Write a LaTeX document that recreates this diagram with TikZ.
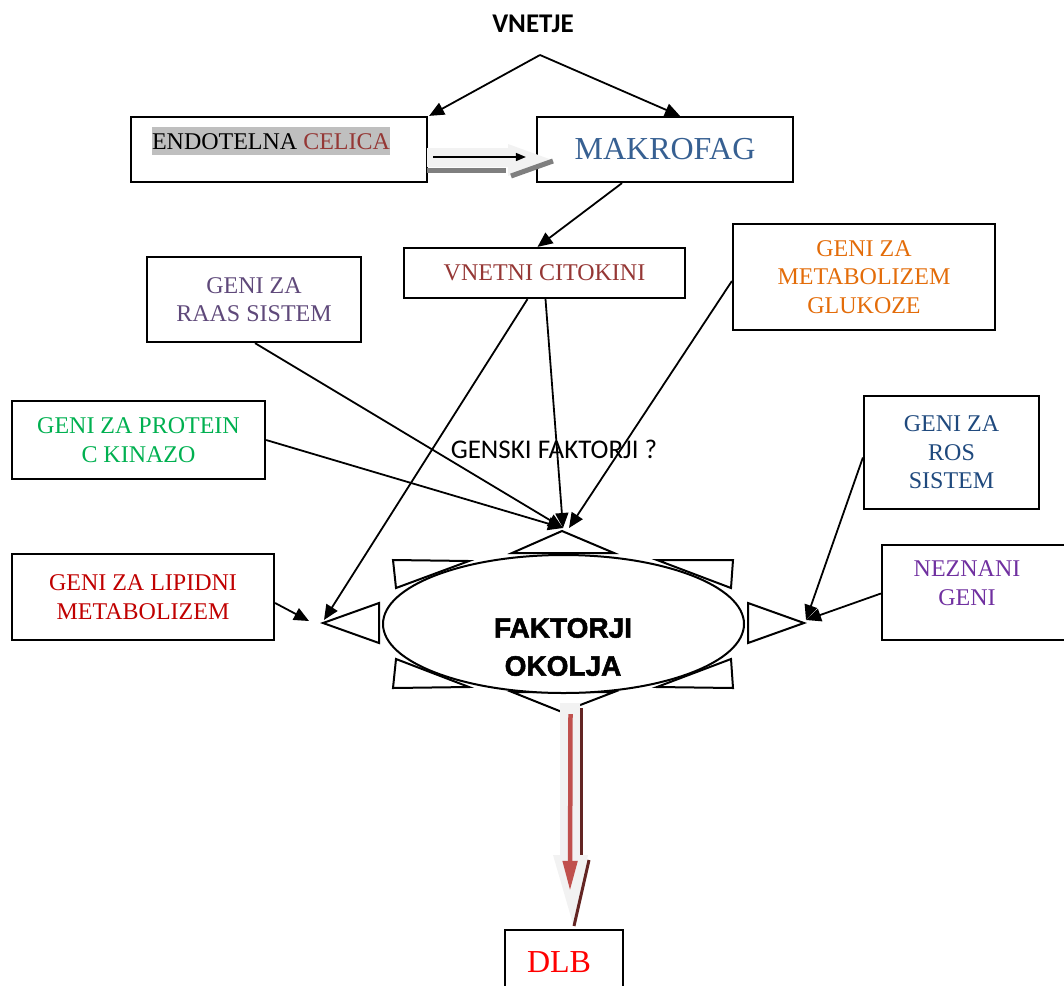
\documentclass[tikz,border=0pt]{standalone}
\usepackage{fontspec}
\setmainfont{Liberation Serif}
\setsansfont{Liberation Sans}
\newfontfamily\calibrifont{Carlito}
\newfontfamily\heavyfont{Liberation Sans Bold}[FakeBold=2]
\usetikzlibrary{arrows.meta,shapes.geometric}

\definecolor{celicared}{HTML}{953735}
\definecolor{makroblue}{HTML}{376092}
\definecolor{raascol}{HTML}{5F497A}
\definecolor{glukcol}{HTML}{E36C09}
\definecolor{pkccol}{HTML}{00B050}
\definecolor{roscol}{HTML}{1F497D}
\definecolor{lipidcol}{HTML}{C00000}
\definecolor{neznanicol}{HTML}{7030A0}
\definecolor{dlbcol}{HTML}{FF0000}
\definecolor{hlgray}{HTML}{BFBFBF}
\definecolor{arrowlight}{HTML}{F2F2F2}
\definecolor{arrowshade}{HTML}{7F7F7F}
\definecolor{dlbred}{HTML}{C0504D}
\definecolor{dlbdark}{HTML}{632523}

\begin{document}
\begin{tikzpicture}[x=1pt, y=-1pt, line join=miter,
  box/.style={draw, line width=2.2pt, align=center, inner sep=0pt, font=\fontsize{24}{28.5}\selectfont},
  link/.style={line width=1.8pt, -{Triangle[length=15pt,width=13pt]}},
  ray/.style={draw, line width=2pt, fill=white}]
    \useasboundingbox (0,0) rectangle (1064,985);

    \node[font=\calibrifont\bfseries\fontsize{27}{30}\selectfont] at (533, 24) (vnetje) {VNETJE};
    \coordinate (split) at (540, 55);

    \node[box, minimum width=296, minimum height=65] at (279, 149.5) (endo) {};
    \node[font=\fontsize{24}{28.5}\selectfont, fill=hlgray, inner xsep=0pt, inner ysep=0.5pt, text height=22pt, text depth=5pt] at (271, 141) (endotext) {ENDOTELNA \textcolor{celicared}{CELICA}};
    \node[box, minimum width=256, minimum height=65, text=makroblue, font=\fontsize{32}{36}\selectfont] at (665, 149.5) (makro) {MAKROFAG};
    \node[box, minimum width=281, minimum height=50, text=celicared] at (544.5, 273) (vnetni) {VNETNI CITOKINI};
    \node[box, minimum width=214, minimum height=85, text=raascol] at (254, 299.5) (raas) {GENI ZA\\RAAS SISTEM};
    \node[box, minimum width=262, minimum height=106, text=glukcol] at (864, 277) (gluk) {GENI ZA\\METABOLIZEM\\GLUKOZE};
    \node[box, minimum width=253, minimum height=78, text=pkccol] at (138.5, 440) (pkc) {GENI ZA PROTEIN\\C KINAZO};
    \node[box, minimum width=175, minimum height=113, text=roscol] at (951.5, 452.5) (ros) {GENI ZA\\ROS\\SISTEM};
    \node[box, minimum width=262, minimum height=86, text=lipidcol] at (143, 597) (lipid) {GENI ZA LIPIDNI\\METABOLIZEM};
    \node[box, minimum width=184, minimum height=95] at (974, 592.5) (neznani) {};
    \node[font=\fontsize{24}{28.5}\selectfont, text=neznanicol, align=center] at (967, 583) (neznanitext) {NEZNANI\\GENI};
    \node[box, minimum width=118, minimum height=60] at (564, 960) (dlb) {};
    \node[text=dlbcol, font=\fontsize{32}{36}\selectfont] at (559, 962) (dlbtext) {DLB};

    \node[font=\calibrifont\fontsize{27}{30}\selectfont] at (554, 449) (genski) {GENSKI FAKTORJI ?};

    \path[ray] (512, 553) -- (614, 553) -- (562, 531) -- cycle;
    \path[ray] (512, 692) -- (614, 692) -- (562, 712) -- cycle;
    \path[ray] (379, 603) -- (379, 643) -- (323, 623) -- cycle;
    \path[ray] (748, 603) -- (748, 643) -- (804, 623) -- cycle;
    \path[ray] (393, 560) -- (469, 561) -- (396, 588) -- cycle;
    \path[ray] (657, 560) -- (733, 560) -- (731, 588) -- cycle;
    \path[ray] (393, 688) -- (469, 687) -- (396, 659) -- cycle;
    \path[ray] (657, 687) -- (733, 688) -- (731, 659) -- cycle;
    \node[draw, ellipse, line width=2pt, fill=white, minimum width=361, minimum height=138, inner sep=0pt] at (563.5, 624) (okolje) {};
    \node[font=\heavyfont\fontsize{28}{38}\selectfont, align=center] at (563, 647) (okoljetext) {FAKTORJI\\OKOLJA};

    \coordinate (sunTop) at (563, 528);
    \coordinate (sunLeftA) at (309, 621);
    \coordinate (sunLeftB) at (324, 620);
    \coordinate (sunRight) at (806, 620);

    \draw[link] (split) -- ([shift={(1,0)}]endo.north east);
    \draw[link] (split) -- ([shift={(15,0)}]makro.north);

    \fill[arrowlight] (427, 148) -- (508, 148) -- (508, 144) -- (552, 160) -- (508, 176) -- (508, 167) -- (427, 167) -- cycle;
    \draw[arrowshade, line width=5pt] (427, 170) -- (506, 170);
    \draw[arrowshade, line width=5pt] (511, 176) -- (553, 161);
    \draw[line width=1.5pt, -{Triangle[length=10pt,width=8pt]}] ([shift={(5,7.5)}]endo.east) -- ([shift={(-10,7.5)}]makro.west);

    \draw[link] ([shift={(-43,0)}]makro.south) -- ([shift={(-7,0)}]vnetni.north);
    \draw[link] ([shift={(1,0)}]raas.south) -- (sunTop);
    \draw[link] (pkc.east) -- (sunTop);
    \draw[link] ([shift={(1,0)}]vnetni.south) -- (sunTop);
    \draw[link] ([shift={(0,4)}]gluk.west) -- ([shift={(6,0)}]sunTop);
    \draw[link] ([shift={(0,6)}]lipid.east) -- (sunLeftA);
    \draw[link] ([shift={(-17,0)}]vnetni.south) -- (sunLeftB);
    \draw[link] ([shift={(0,5)}]ros.west) -- (sunRight);
    \draw[link] ([shift={(0,1)}]neznani.west) -- (sunRight);

    \fill[arrowlight] (560, 703) -- (580, 703) -- (580, 855) -- (588, 855) -- (573, 924) -- (553, 855) -- (560, 855) -- cycle;
    \draw[dlbdark, line width=3pt] (581.5, 708) -- (581.5, 855);
    \draw[dlbdark, line width=3pt] (589, 860) -- (574, 926);
    \draw[dlbred, line width=4.5pt, -{Triangle[length=30pt,width=14pt]}] ([shift={(7,20)}]okolje.south) -- ([shift={(6,-38)}]dlb.north);
\end{tikzpicture}
\end{document}
